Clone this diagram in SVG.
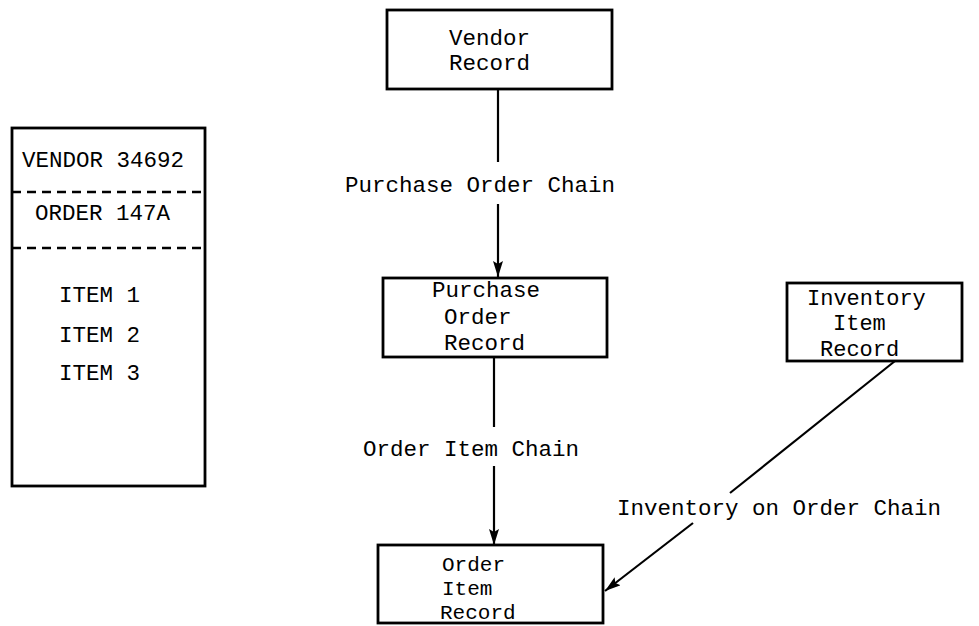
<svg xmlns="http://www.w3.org/2000/svg" width="979" height="626" viewBox="0 0 979 626">
  <style>
    .box { fill: #fff; stroke: #000; stroke-width: 2.8; }
    .line { stroke: #000; stroke-width: 2.2; fill: none; }
    .dash { stroke: #000; stroke-width: 2.5; stroke-dasharray: 9 6; fill: none; }
    text { font-family: "Liberation Mono", "DejaVu Sans Mono", monospace; font-size: 22.5px; fill: #000; }
    .tight { font-size: 22px; }
    .tighter { font-size: 21px; }
  </style>
  <defs>
    <marker id="arrow" viewBox="0 0 16 10" refX="16" refY="5" markerWidth="16" markerHeight="10" markerUnits="userSpaceOnUse" orient="auto">
      <path d="M0,0 L16,5 L0,10 L3,5 Z" fill="#000"/>
    </marker>
  </defs>
  <rect width="979" height="626" fill="#fff"/>

  <!-- record occurrence layout -->
  <g id="record-layout">
    <rect class="box" x="12" y="128" width="193" height="358"/>
    <line class="dash" x1="12" y1="192" x2="205" y2="192"/>
    <line class="dash" x1="12" y1="248" x2="205" y2="248"/>
    <text x="22" y="167">VENDOR 34692</text>
    <text x="35" y="220">ORDER 147A</text>
    <text x="59" y="302">ITEM 1</text>
    <text x="59" y="342">ITEM 2</text>
    <text x="59" y="380">ITEM 3</text>
  </g>

  <!-- chains -->
  <g id="connectors">
    <line class="line" x1="498" y1="89" x2="498" y2="162"/>
    <line class="line" x1="498" y1="204" x2="498" y2="277" marker-end="url(#arrow)"/>
    <text x="345" y="192">Purchase Order Chain</text>

    <line class="line" x1="494" y1="357" x2="494" y2="427"/>
    <line class="line" x1="494" y1="466" x2="494" y2="545" marker-end="url(#arrow)"/>
    <text x="363" y="456">Order Item Chain</text>

    <line class="line" x1="895" y1="361" x2="730" y2="493"/>
    <line class="line" x1="693" y1="523" x2="605" y2="591" marker-end="url(#arrow)"/>
    <text x="617" y="515">Inventory on Order Chain</text>
  </g>

  <g id="vendor-record">
    <rect class="box" x="387" y="10" width="225" height="79"/>
    <text x="449" y="45">Vendor</text>
    <text x="449" y="70">Record</text>
  </g>

  <g id="purchase-order-record">
    <rect class="box" x="383" y="278" width="224" height="79"/>
    <text x="432" y="297">Purchase</text>
    <text x="444" y="324">Order</text>
    <text x="444" y="350">Record</text>
  </g>

  <g id="inventory-item-record">
    <rect class="box" x="787" y="283" width="175" height="78"/>
    <text class="tight" x="807" y="305">Inventory</text>
    <text class="tight" x="833" y="330">Item</text>
    <text class="tight" x="820" y="356">Record</text>
  </g>

  <g id="order-item-record">
    <rect class="box" x="378" y="545" width="225" height="78"/>
    <text class="tighter" x="442" y="571">Order</text>
    <text class="tighter" x="442" y="595">Item</text>
    <text class="tighter" x="440" y="619">Record</text>
  </g>
</svg>
